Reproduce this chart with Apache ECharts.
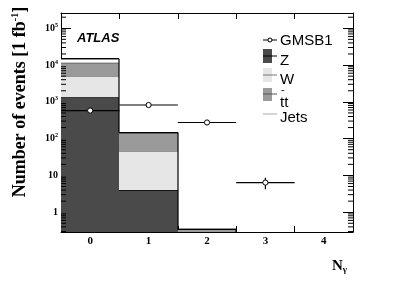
<!DOCTYPE html>
<html>
<head>
<meta charset="utf-8">
<script src="https://cdn.jsdelivr.net/npm/echarts@6/dist/echarts.min.js"></script>
<style>html,body{margin:0;padding:0;background:#fff}#c{width:415px;height:281px}</style>
</head>
<body>
<div id="c"></div>
<script>
// ---- data ----
const categories = ['0', '1', '2', '3', '4'];
const bgZ    = [1330, 4.0, 0, 0, 0];
const bgW    = [3700, 42, 0, 0, 0];
const bgTT   = [6600, 100, 0.34, 0, 0];
const bgJets = [3300, 0, 0, 0, 0];
const gmsb      = [580, 820, 275, 6.4, null];
const gmsbLow   = [560, 800, 265, 4.2, null];
const gmsbHigh  = [600, 845, 285, 8.6, null];
const yMin = 0.29, yMax = 2.6e5;

// ---- build stacked segments ----
const comps = [
  {name: 'Z', vals: bgZ, fill: '#4a4a4a', line: '#000000'},
  {name: 'W', vals: bgW, fill: '#e6e6e6', line: '#777777'},
  {name: 'tt', vals: bgTT, fill: '#9a9a9a', line: '#222222'},
  {name: 'Jets', vals: bgJets, fill: '#ffffff', line: '#000000'}
];
const cum = categories.map(() => 0);
const segData = comps.map(c => {
  const d = [];
  c.vals.forEach((v, i) => {
    if (v > 0) { d.push([i, cum[i], cum[i] + v]); cum[i] += v; }
  });
  return d;
});
const totals = cum.slice();
const outlineData = totals.map((t, i) => [i, t, i + 1 < totals.length ? totals[i + 1] : 0]);
const gmsbData = [];
gmsb.forEach((v, i) => { if (v != null) gmsbData.push([i, v, gmsbLow[i], gmsbHigh[i]]); });

// minor tick positions (2..9 per decade)
const minorTicks = [];
for (let e = -1; e <= 5; e++) for (let m = 2; m <= 9; m++) {
  const v = m * Math.pow(10, e);
  if (v > yMin && v < yMax) minorTicks.push([0, v]);
}

function yOf(api, params, i, v) {
  const cs = params.coordSys;
  if (!(v > 0)) return cs.y + cs.height;
  return Math.min(api.coord([i, v])[1], cs.y + cs.height);
}

const segSeries = comps.map((c, k) => ({
  type: 'custom', name: c.name, data: segData[k], z: 2 + k,
  renderItem: (params, api) => {
    const i = api.value(0), lo = api.value(1), hi = api.value(2);
    const w = api.size([1, 1])[0];
    const xc = api.coord([i, hi])[0];
    const yT = yOf(api, params, i, hi), yB = yOf(api, params, i, lo);
    const x0 = Math.round(xc - w / 2), x1 = Math.round(xc + w / 2);
    return {type: 'group', children: [
      {type: 'rect', shape: {x: x0, y: yT, width: x1 - x0, height: yB - yT}, style: {fill: c.fill}},
      {type: 'line', shape: {x1: x0, y1: yT, x2: x1, y2: yT}, style: {stroke: c.line, lineWidth: 1.2}}
    ]};
  }
}));

const outlineSeries = {
  type: 'custom', data: outlineData, z: 10,
  renderItem: (params, api) => {
    const i = api.value(0), t = api.value(1), tn = api.value(2);
    const w = api.size([1, 1])[0];
    const xc = api.coord([i, 1])[0];
    const x0 = Math.round(xc - w / 2), x1 = Math.round(xc + w / 2);
    const children = [];
    const yT = yOf(api, params, i, t), yN = yOf(api, params, i, tn);
    if (t > 0) children.push({type: 'line', shape: {x1: x0, y1: yT, x2: x1, y2: yT}, style: {stroke: '#000', lineWidth: 1.2}});
    if (t > 0 || tn > 0) children.push({type: 'line', shape: {x1: x1, y1: yT, x2: x1, y2: yN}, style: {stroke: '#000', lineWidth: 1.2}});
    return {type: 'group', children};
  }
};

const gmsbSeries = {
  type: 'custom', data: gmsbData, z: 20,
  renderItem: (params, api) => {
    const i = api.value(0), v = api.value(1), lo = api.value(2), hi = api.value(3);
    const w = api.size([1, 1])[0];
    const p = api.coord([i, v]);
    const yl = api.coord([i, lo])[1], yh = api.coord([i, hi])[1];
    return {type: 'group', children: [
      {type: 'line', shape: {x1: p[0] - w / 2, y1: p[1], x2: p[0] + w / 2, y2: p[1]}, style: {stroke: '#000', lineWidth: 1.2}},
      {type: 'line', shape: {x1: p[0], y1: yl, x2: p[0], y2: yh}, style: {stroke: '#000', lineWidth: 1.2}},
      {type: 'circle', shape: {cx: p[0], cy: p[1], r: 2.6}, style: {fill: '#fff', stroke: '#000', lineWidth: 1}}
    ]};
  }
};

const minorSeries = {
  type: 'custom', data: minorTicks, z: 30, silent: true,
  renderItem: (params, api) => {
    const cs = params.coordSys;
    const y = api.coord([0, api.value(1)])[1];
    return {type: 'group', children: [
      {type: 'line', shape: {x1: cs.x, y1: y, x2: cs.x + 5, y2: y}, style: {stroke: '#000', lineWidth: 1}},
      {type: 'line', shape: {x1: cs.x + cs.width - 5, y1: y, x2: cs.x + cs.width, y2: y}, style: {stroke: '#000', lineWidth: 1}}
    ]};
  }
};

function yLabel(v) {
  const e = Math.round(Math.log10(v));
  if (Math.abs(Math.log10(v) - e) > 1e-6) return '';
  if (e === 0) return '1';
  if (e === 1) return '10';
  return '10{s|' + e + '}';
}

const serif = 'Liberation Serif';
const yAxisCommon = {
  type: 'log', logBase: 10, min: yMin, max: yMax,
  axisLine: {show: true, lineStyle: {color: '#000', width: 1}},
  axisTick: {show: true, inside: true, length: 10, lineStyle: {color: '#000'}},
  splitLine: {show: false}, minorTick: {show: false}
};

const chart = echarts.init(document.getElementById('c'), null, {renderer: 'canvas'});
chart.setOption({
  animation: false,
  backgroundColor: '#fff',
  grid: {left: 61, right: 62, top: 13, bottom: 49, show: false},
  xAxis: [
    {type: 'category', data: categories, position: 'bottom', boundaryGap: true,
     axisLine: {show: true, lineStyle: {color: '#000', width: 1}},
     axisTick: {show: true, inside: true, length: 6, lineStyle: {color: '#000'}},
     axisLabel: {color: '#000', fontFamily: serif, fontWeight: 'bold', fontSize: 11, margin: 4},
     splitLine: {show: false}},
    {type: 'category', data: categories, position: 'top', boundaryGap: true,
     axisLine: {show: true, lineStyle: {color: '#000', width: 1}},
     axisTick: {show: true, inside: true, length: 6, lineStyle: {color: '#000'}},
     axisLabel: {show: false}, splitLine: {show: false}}
  ],
  yAxis: [
    Object.assign({}, yAxisCommon, {position: 'left',
      axisLabel: {color: '#000', fontFamily: serif, fontWeight: 'bold', fontSize: 10, margin: 3,
        showMinLabel: false, showMaxLabel: false, formatter: yLabel,
        rich: {s: {fontFamily: serif, fontWeight: 'bold', fontSize: 6, padding: [0, 0, 6, 0]}}}}),
    Object.assign({}, yAxisCommon, {position: 'right', axisLabel: {show: false}})
  ],
  series: [...segSeries, outlineSeries, gmsbSeries, minorSeries],
  graphic: [
    {type: 'text', x: 20, y: 102, rotation: Math.PI / 2, z: 100,
     style: {text: 'Number of events [1 fb{s|-1}]', font: 'bold 18px "Liberation Serif"', fill: '#000',
       align: 'center', verticalAlign: 'middle',
       rich: {s: {font: 'bold 10px "Liberation Serif"', padding: [0, 0, 9, 0]}}}},
    {type: 'text', x: 332, y: 266, z: 100,
     style: {text: 'N{g|γ}', font: 'bold 15px "Liberation Serif"', fill: '#000', align: 'left', verticalAlign: 'middle',
       rich: {g: {font: 'bold 9px "Liberation Serif"', padding: [7, 0, 0, 0]}}}},
    {type: 'text', x: 77, y: 38, z: 100,
     style: {text: 'ATLAS', font: 'italic bold 13px "Liberation Sans"', fill: '#000', align: 'left', verticalAlign: 'middle'}},
    // legend
    {type: 'line', shape: {x1: 263, y1: 40, x2: 277, y2: 40}, style: {stroke: '#000', lineWidth: 1}, z: 100},
    {type: 'circle', shape: {cx: 270, cy: 40, r: 2}, style: {fill: '#fff', stroke: '#000', lineWidth: 1}, z: 101},
    {type: 'text', x: 280, y: 41, z: 100, style: {text: 'GMSB1', font: '15px "Liberation Sans"', fill: '#000', verticalAlign: 'middle'}},
    {type: 'rect', shape: {x: 263, y: 49, width: 9, height: 14}, style: {fill: '#4a4a4a'}, z: 100},
    {type: 'line', shape: {x1: 263, y1: 56, x2: 277, y2: 56}, style: {stroke: '#000', lineWidth: 1}, z: 101},
    {type: 'text', x: 280, y: 61, z: 100, style: {text: 'Z', font: '15px "Liberation Sans"', fill: '#000', verticalAlign: 'middle'}},
    {type: 'rect', shape: {x: 263, y: 68, width: 9, height: 14}, style: {fill: '#e6e6e6'}, z: 100},
    {type: 'line', shape: {x1: 263, y1: 75, x2: 277, y2: 75}, style: {stroke: '#777', lineWidth: 1}, z: 101},
    {type: 'text', x: 280, y: 80, z: 100, style: {text: 'W', font: '15px "Liberation Sans"', fill: '#000', verticalAlign: 'middle'}},
    {type: 'rect', shape: {x: 263, y: 88, width: 9, height: 13}, style: {fill: '#9a9a9a'}, z: 100},
    {type: 'line', shape: {x1: 263, y1: 94, x2: 277, y2: 94}, style: {stroke: '#555', lineWidth: 1}, z: 101},
    {type: 'text', x: 281, y: 90, z: 100, style: {text: '-', font: '11px "Liberation Sans"', fill: '#000', verticalAlign: 'middle'}},
    {type: 'text', x: 280, y: 103, z: 100, style: {text: 'tt', font: '15px "Liberation Sans"', fill: '#000', verticalAlign: 'middle'}},
    {type: 'line', shape: {x1: 263, y1: 114, x2: 277, y2: 114}, style: {stroke: '#aaa', lineWidth: 1}, z: 101},
    {type: 'text', x: 280, y: 118, z: 100, style: {text: 'Jets', font: '15px "Liberation Sans"', fill: '#000', verticalAlign: 'middle'}}
  ]
});
</script>
</body>
</html>
